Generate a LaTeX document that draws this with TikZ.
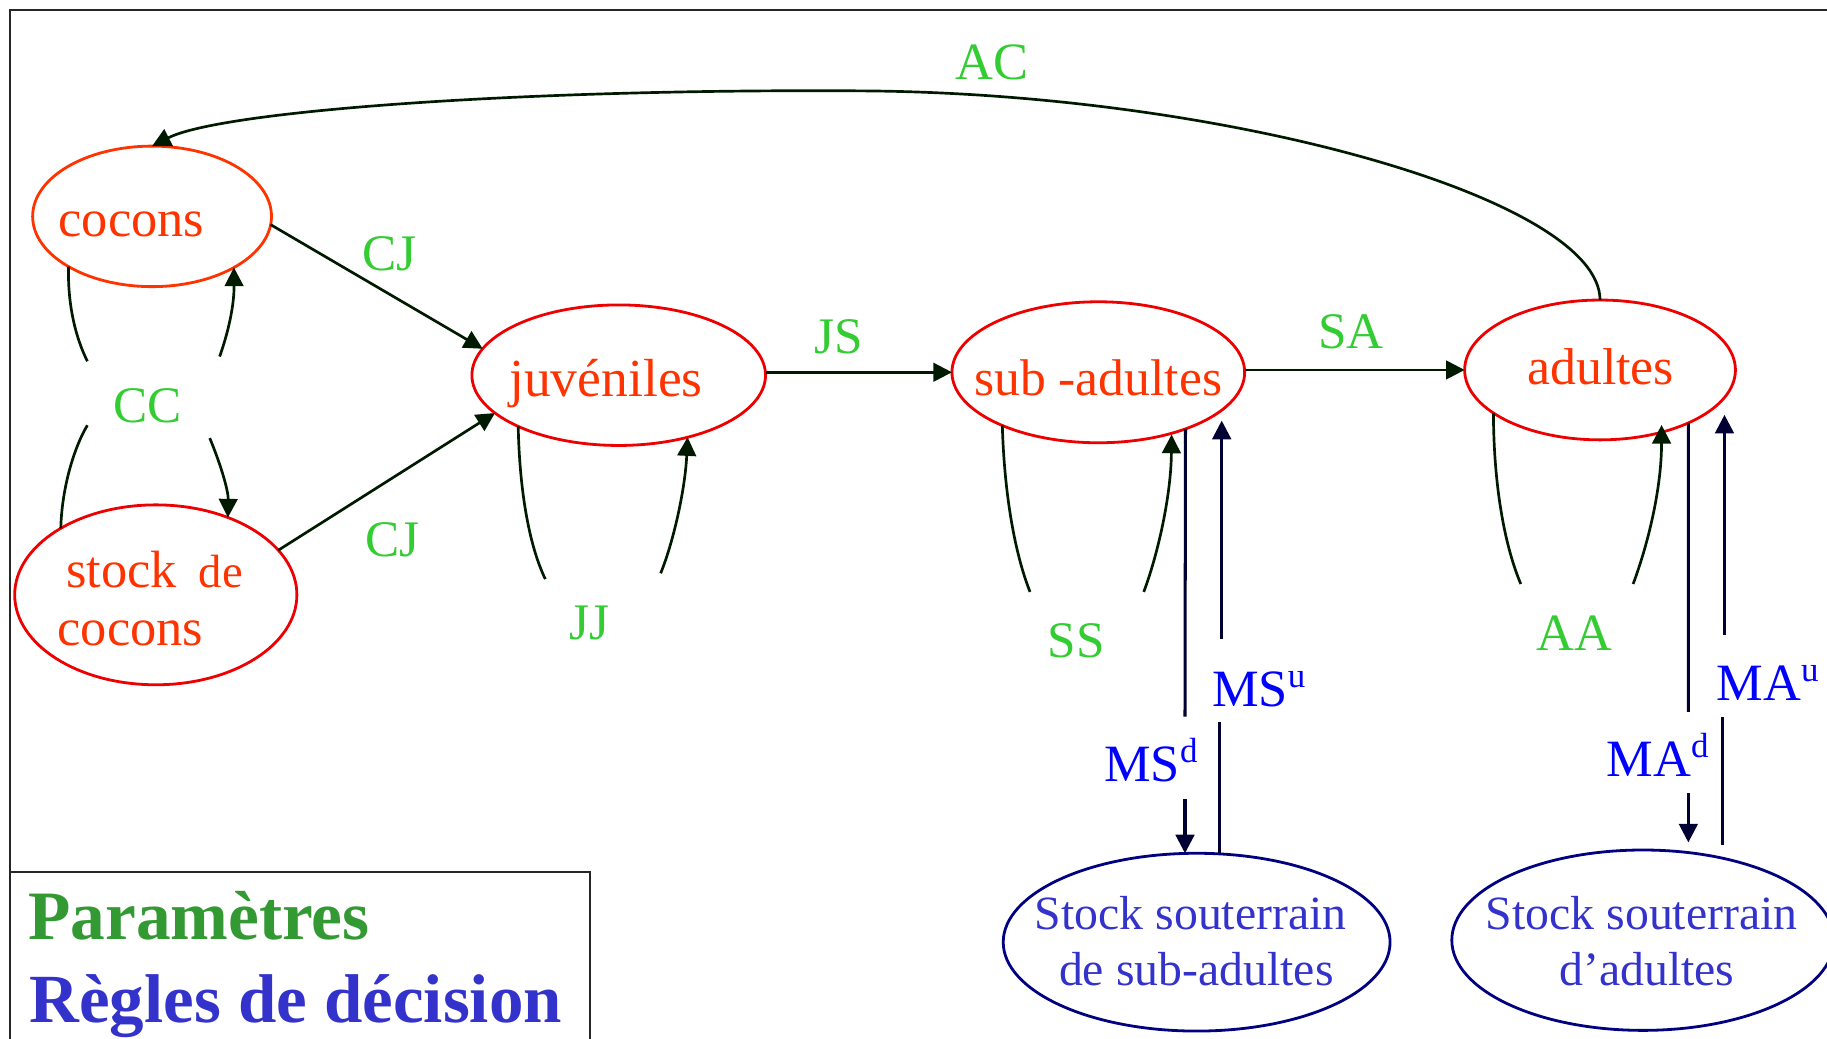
\documentclass[tikz,border=0pt]{standalone}
\usepackage{fontspec}
\setmainfont{Liberation Serif}
\usetikzlibrary{shapes.geometric,arrows.meta}
\definecolor{redtxt}{HTML}{FF3300}
\definecolor{redline}{HTML}{EE0000}
\definecolor{grn}{HTML}{33CC33}
\definecolor{grnleg}{HTML}{339933}
\definecolor{bluelab}{HTML}{0000FF}
\definecolor{bluetxt}{HTML}{3333CC}
\definecolor{navyline}{HTML}{000080}
\definecolor{conn}{HTML}{001A00}
\definecolor{msline}{HTML}{000033}
\newcommand\setfs[1]{\fontsize{#1}{#1}\selectfont}
\newcommand\supx[1]{\raisebox{16pt}{\setfs{30}#1}}
\begin{document}
\begin{tikzpicture}[x=1pt,y=-1pt,
  ell/.style={draw, ellipse, line width=2.4pt, inner sep=0pt, outer sep=0pt},
  redell/.style={ell, draw=redline},
  blueell/.style={ell, draw=navyline},
  redlab/.style={text=redtxt, font=\setfs{45}, inner sep=0pt, anchor=base},
  bluelabtxt/.style={text=bluetxt, font=\setfs{41}, inner sep=0pt, anchor=base},
  param/.style={text=grn, font=\setfs{44}, inner sep=0pt, anchor=base},
  rulelab/.style={text=bluelab, font=\setfs{45}, inner sep=0pt, anchor=base west},
  flow/.style={draw=conn, line width=2.3pt},
  msl/.style={draw=msline, line width=2.6pt},
  arr/.style={-{Triangle[length=16pt,width=16pt]}}
]
\useasboundingbox (0,0) rectangle (1568,891);
% frame
\draw[line width=2.2pt, draw=black!85] (1575,8.5) -- (8.5,8.5) -- (8.5,900);
% legend box
\draw[line width=1.8pt, draw=black!85] (8.5,748) -- (506,748) -- (506,900);
\node[anchor=base west, inner sep=0pt, text=grnleg, font=\bfseries\setfs{59.5}] (leg1) at (24,806) {Paramètres};
\node[anchor=base west, inner sep=0pt, text=bluetxt, font=\bfseries\setfs{59.2}] (leg2) at (25,877.6) {Règles de décision};

% state ellipses
\node[redell, draw=redtxt, minimum width=205pt, minimum height=120.6pt] (cocons) at (130.5,185.7) {};
\node[redell, minimum width=242.2pt, minimum height=154.4pt] (stock) at (133.7,510.5) {};
\node[redell, minimum width=252pt, minimum height=120.6pt] (juv) at (531,322) {};
\node[redell, minimum width=251.2pt, minimum height=121pt] (sub) at (942.6,319.5) {};
\node[redell, minimum width=232.4pt, minimum height=120pt] (adu) at (1373.2,317.5) {};
\node[blueell, minimum width=332pt, minimum height=152.6pt] (ssub) at (1027,808.6) {};
\node[blueell, minimum width=328pt, minimum height=154.8pt] (sadu) at (1410,806.9) {};

% state texts
\node[redlab] (tcocons) at (112.7,203) {cocons};
\node[redlab, anchor=base west] (tstock1) at (56.5,504) {stock\hspace{19pt}{\setfs{40}de}};
\node[redlab] (tstock2) at (112,554) {cocons};
\node[redlab, font=\setfs{46}] (tjuv) at (520,340.4) {juvéniles};
\node[redlab, font=\setfs{44.3}] (tsub) at (942.5,339) {sub -adultes};
\node[redlab, font=\setfs{44.5}] (tadu) at (1373.7,330.4) {adultes};
\node[bluelabtxt] (tssub1) at (1021.9,797.5) {Stock souterrain};
\node[bluelabtxt] (tssub2) at (1026.8,845.8) {de sub-adultes};
\node[bluelabtxt] (tsadu1) at (1409,797.5) {Stock souterrain};
\node[bluelabtxt] (tsadu2) at (1413.4,845.8) {d’adultes};

% parameter labels
\node[param, font=\setfs{45}] (lAC) at (851.5,68) {AC};
\node[param] (lCJ1) at (334.5,232.3) {CJ};
\node[param] (lCJ2) at (336.5,477.7) {CJ};
\node[param] (lCC) at (126.5,362.8) {CC};
\node[param] (lJS) at (719.5,303) {JS};
\node[param] (lSA) at (1159.5,299) {SA};
\node[param] (lJJ) at (506,548.6) {JJ};
\node[param] (lSS) at (923.7,564) {SS};
\node[param, font=\setfs{45}] (lAA) at (1351.5,558) {AA};

% decision rule labels
\node[rulelab] (lMSu) at (1040,606) {MS\supx{u}};
\node[rulelab] (lMSd) at (947.6,670.5) {MS\supx{d}};
\node[rulelab] (lMAu) at (1473,601) {MA\supx{u}};
\node[rulelab] (lMAd) at (1378.6,666) {MA\supx{d}};

% main flows
\draw[flow, arr] (adu.north) .. controls (1373,170) and (1050,80) .. (740,78)
   .. controls (450,76) and (190,95) .. (cocons.north);
\draw[flow, arr] (cocons.-4) -- (juv.169);
\draw[flow, arr] (stock.20) -- (juv.197);
\draw[flow, arr] (juv.east |- sub.west) -- (sub.west);
\draw[flow, arr] (sub.east |- adu.west) -- (adu.west);

% CC loops
\coordinate (ccA) at (75,310);
\coordinate (ccB) at (188.5,306);
\coordinate (ccC) at (75,365);
\coordinate (ccD) at (180,376);
\draw[flow] (cocons.211) .. controls (58,262) and (65,290) .. (ccA);
\draw[flow, arr] (ccB) .. controls (196,285) and (201,262) .. (cocons.-32.5);
\draw[flow] (stock.145) .. controls (53,420) and (63,385) .. (ccC);
\draw[flow, arr] (ccD) .. controls (188,395) and (196,420) .. (stock.47);

% JJ loop
\coordinate (jjA) at (468,497);
\coordinate (jjB) at (567,492);
\draw[flow] (juv.207) .. controls (446,425) and (455,470) .. (jjA);
\draw[flow, arr] (jjB) .. controls (578,465) and (588,420) .. (juv.-42);

% SS loop
\coordinate (ssA) at (884,508);
\coordinate (ssB) at (981.6,508);
\coordinate (ssT) at (1005.5,373);
\draw[flow] (sub.209) .. controls (862,425) and (871,475) .. (ssA);
\draw[flow, arr] (ssB) .. controls (994,475) and (1005,425) .. (ssT);

% AA loop
\coordinate (aaA) at (1305.2,501.2);
\coordinate (aaB) at (1401.6,501.2);
\coordinate (aaT) at (1426,364.7);
\draw[flow] (adu.202) .. controls (1282,420) and (1292,470) .. (aaA);
\draw[flow, arr] (aaB) .. controls (1414,468) and (1426,420) .. (aaT);

% MS links
\coordinate (msd1) at (1017,615);
\coordinate (msd2) at (1017,686);
\draw[msl] (sub.-33) -- (msd1);
\draw[msl, arr] (msd2) -- (msd2 |- ssub.north);
\coordinate (msu1) at (1047,620);
\coordinate (msu2) at (1048.5,548);
\coordinate (msu3) at (1048.5,361);
\draw[msl] (msu1 |- ssub.north) -- (msu1);
\draw[msl, arr] (msu2) -- (msu3);

% MA links
\coordinate (mad1) at (1449,611);
\coordinate (mad2) at (1449,681);
\coordinate (mad3) at (1449,723);
\draw[msl] (adu.-31) -- (mad1);
\draw[msl, arr] (mad2) -- (mad3);
\coordinate (mau0) at (1478,725);
\coordinate (mau1) at (1478,615);
\coordinate (mau2) at (1480,545);
\coordinate (mau3) at (1480,356);
\draw[msl] (mau0) -- (mau1);
\draw[msl, arr] (mau2) -- (mau3);
\end{tikzpicture}
\end{document}
